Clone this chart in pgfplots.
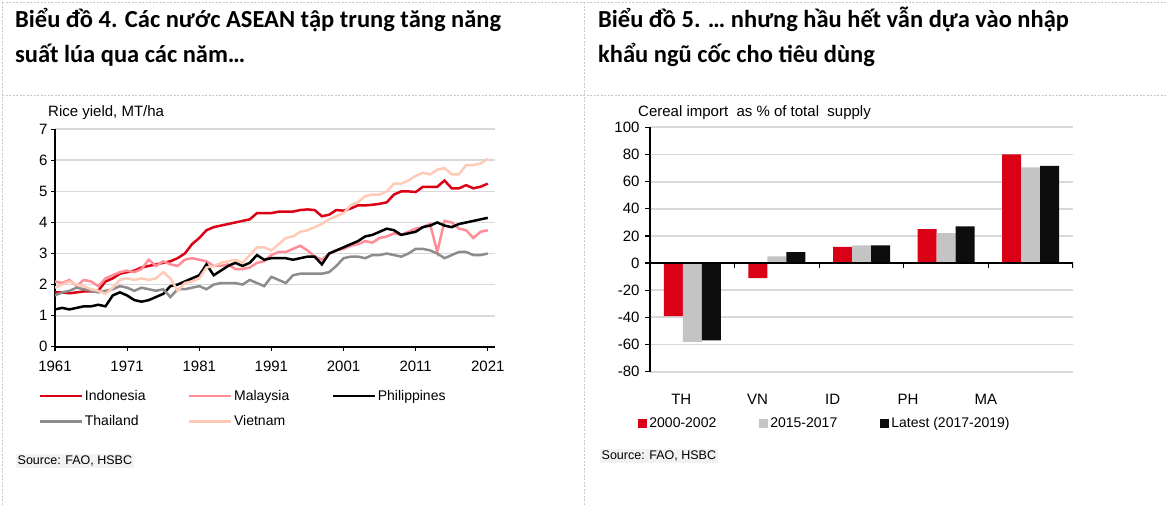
\documentclass[border=0pt]{standalone}
\usepackage{pgfplots}
\pgfplotsset{compat=1.18}
\usepackage{pgfplotstable}
\usepackage{fontspec}
\setmainfont{Liberation Sans}
\newfontfamily\titlefont{Carlito}

\definecolor{idred}{RGB}{220,0,20}
\definecolor{mypink}{RGB}{255,140,150}
\definecolor{vnpeach}{RGB}{255,202,182}
\definecolor{thgray}{RGB}{140,140,140}
\definecolor{gridgray}{RGB}{217,217,217}
\definecolor{bargray}{RGB}{196,196,196}
\definecolor{barblack}{RGB}{13,13,13}
\definecolor{barred}{RGB}{218,0,22}
\definecolor{srcbg}{RGB}{242,242,242}
\definecolor{dashgray}{RGB}{200,200,200}

% rice yield, MT/ha
\pgfplotstableread{
year ID MY PH TH VN
1961 1.75 2.10 1.20 1.65 1.90
1962 1.75 2.05 1.25 1.75 2.00
1963 1.72 2.15 1.20 1.80 2.10
1964 1.75 1.95 1.25 1.90 2.00
1965 1.78 2.15 1.30 1.85 1.95
1966 1.78 2.10 1.30 1.80 1.85
1967 1.80 1.95 1.35 1.75 1.80
1968 2.10 2.20 1.30 1.80 1.70
1969 2.20 2.30 1.65 1.85 1.90
1970 2.35 2.40 1.75 1.95 2.15
1971 2.40 2.45 1.65 1.90 2.20
1972 2.45 2.40 1.50 1.80 2.15
1973 2.55 2.50 1.45 1.90 2.20
1974 2.60 2.80 1.50 1.85 2.15
1975 2.65 2.60 1.60 1.80 2.20
1976 2.70 2.75 1.70 1.85 2.40
1977 2.75 2.65 1.95 1.60 2.20
1978 2.85 2.60 2.00 1.85 1.80
1979 3.00 2.80 2.10 1.85 2.05
1980 3.30 2.85 2.20 1.90 2.10
1981 3.50 2.80 2.30 1.95 2.20
1982 3.75 2.75 2.65 1.85 2.55
1983 3.85 2.60 2.30 2.00 2.60
1984 3.90 2.60 2.45 2.05 2.70
1985 3.95 2.65 2.60 2.05 2.75
1986 4.00 2.50 2.70 2.05 2.80
1987 4.05 2.50 2.60 2.00 2.70
1988 4.10 2.55 2.70 2.15 2.95
1989 4.30 2.70 2.95 2.05 3.20
1990 4.30 2.75 2.80 1.95 3.20
1991 4.30 2.95 2.85 2.25 3.10
1992 4.35 3.05 2.85 2.15 3.30
1993 4.35 3.05 2.85 2.05 3.50
1994 4.35 3.15 2.80 2.30 3.55
1995 4.40 3.25 2.85 2.35 3.70
1996 4.42 3.10 2.90 2.35 3.75
1997 4.40 2.90 2.90 2.35 3.85
1998 4.20 2.80 2.65 2.35 3.95
1999 4.25 3.00 3.00 2.40 4.10
2000 4.40 3.10 3.10 2.60 4.20
2001 4.38 3.15 3.20 2.85 4.30
2002 4.45 3.25 3.30 2.90 4.55
2003 4.55 3.30 3.40 2.90 4.65
2004 4.55 3.40 3.55 2.85 4.85
2005 4.57 3.35 3.60 2.95 4.90
2006 4.60 3.50 3.70 2.95 4.90
2007 4.65 3.55 3.80 3.00 5.00
2008 4.90 3.65 3.75 2.95 5.25
2009 5.00 3.60 3.60 2.90 5.25
2010 5.00 3.70 3.65 3.00 5.35
2011 4.98 3.80 3.70 3.15 5.50
2012 5.15 3.85 3.85 3.15 5.60
2013 5.15 3.95 3.90 3.10 5.55
2014 5.15 3.05 4.00 3.00 5.70
2015 5.35 4.05 3.90 2.85 5.75
2016 5.10 4.00 3.85 2.95 5.55
2017 5.10 3.80 3.95 3.05 5.55
2018 5.20 3.75 4.00 3.05 5.85
2019 5.10 3.50 4.05 2.95 5.85
2020 5.15 3.70 4.10 2.95 5.90
2021 5.25 3.75 4.15 3.00 6.05
}\riceyield

% cereal import as % of total supply
\pgfplotstableread{
x  early  mid  latest
0  -39   -58  -57
1  -11    5    8
2   12   13   13
3   25   22   27
4   80   70.5 71.5
}\cereal

\begin{document}
\begin{tikzpicture}
\useasboundingbox (0,0) rectangle (1166pt,505pt);

% panel borders
\begin{scope}[dashgray, line width=0.8pt, dash pattern=on 2pt off 1.5pt]
\draw (2pt,503pt) -- (1166pt,503pt);
\draw (2pt,410pt) -- (1166pt,410pt);
\draw (2pt,0pt) -- (2pt,503pt);
\draw (584pt,0pt) -- (584pt,503pt);
\end{scope}

% titles
\begin{scope}[font=\titlefont\bfseries\fontsize{24.5}{28}\selectfont]
\node[anchor=base west, inner sep=0pt] at (15pt,477pt) {Biểu đồ 4. Các nước ASEAN tập trung tăng năng};
\node[anchor=base west, inner sep=0pt] at (15pt,442pt) {suất lúa qua các năm…};
\node[anchor=base west, inner sep=0pt] at (598pt,477pt) {Biểu đồ 5. … nhưng hầu hết vẫn dựa vào nhập};
\node[anchor=base west, inner sep=0pt] at (598pt,442pt) {khẩu ngũ cốc cho tiêu dùng};
\end{scope}

\node[anchor=base west, inner sep=0pt, font=\fontsize{15}{17}\selectfont] at (48pt,388pt) {Rice yield, MT/ha};
\node[anchor=base west, inner sep=0pt, font=\fontsize{15}{17}\selectfont] at (638pt,388pt) {Cereal import\ \ as \% of total\ \ supply};

\node[anchor=west, fill=srcbg, inner sep=1.5pt, font=\fontsize{12.5}{14}\selectfont] at (16pt,44pt) {Source: FAO, HSBC};
\node[anchor=west, fill=srcbg, inner sep=1.5pt, font=\fontsize{12.5}{14}\selectfont] at (600pt,49pt) {Source: FAO, HSBC};

% left: rice yield
\begin{axis}[
  at={(55pt,158.3pt)}, anchor=south west,
  scale only axis, width=440pt, height=217.4pt,
  xmin=1961, xmax=2022, ymin=0, ymax=7,
  axis x line*=bottom, axis y line*=left,
  axis line style={black, line width=1.8pt, -},
  xtick={1961,1971,1981,1991,2001,2011,2021},
  xticklabels={1961,1971,1981,1991,2001,2011,2021},
  xticklabel style={yshift=-7pt},
  ytick={0,1,...,7},
  yticklabels={0,1,2,3,4,5,6,7},
  tick align=outside, major tick length=4pt,
  tick style={black, line width=1.2pt},
  ymajorgrids, grid style={gridgray, line width=1.8pt},
  ticklabel style={font=\fontsize{15}{17}\selectfont},
  legend columns=3,
  legend cell align=left,
  legend image code/.code={\draw[#1] (0pt,0pt) -- (42pt,0pt);},
  legend style={at={(axis description cs:-0.045,-0.18)}, anchor=north west,
    draw=none, fill=none, font=\fontsize{14}{16}\selectfont, row sep=10pt,
    /tikz/every even column/.append style={column sep=40pt}},
  every axis plot/.append style={line width=2.5pt},
]
\addplot[idred] table[x=year, y=ID] {\riceyield};
\addlegendentry{Indonesia}
\addplot[mypink] table[x=year, y=MY] {\riceyield};
\addlegendentry{Malaysia}
\addplot[black] table[x=year, y=PH] {\riceyield};
\addlegendentry{Philippines}
\addplot[thgray] table[x=year, y=TH] {\riceyield};
\addlegendentry{Thailand}
\addplot[vnpeach] table[x=year, y=VN] {\riceyield};
\addlegendentry{Vietnam}
\end{axis}

% right: cereal imports
\begin{axis}[
  at={(650pt,133.3pt)}, anchor=south west,
  scale only axis, width=423pt, height=244.4pt,
  xmin=-0.5, xmax=4.5, ymin=-80, ymax=100,
  ybar=0pt, bar width=19pt,
  axis x line*=bottom, axis y line*=left,
  x axis line style={draw=none},
  y axis line style={black, line width=1.8pt, -},
  xtick={-0.13,0.77,1.66,2.55,3.47},
  xticklabels={TH,VN,ID,PH,MA},
  xtick style={draw=none},
  xticklabel style={yshift=-14pt},
  ytick={-80,-60,...,100},
  yticklabels={-80,-60,-40,-20,0,20,40,60,80,100},
  yticklabel style={xshift=-2pt},
  tick align=outside, major tick length=5pt,
  ytick style={black, line width=1.2pt},
  ymajorgrids, grid style={gridgray, line width=1.8pt},
  ticklabel style={font=\fontsize{15}{17}\selectfont},
  legend columns=3,
  legend cell align=left,
  legend style={at={(axis description cs:-0.035,-0.21)}, anchor=west,
    draw=none, fill=none, font=\fontsize{14}{16}\selectfont,
    /tikz/every even column/.append style={column sep=41pt}},
  sq/.style={draw=none, legend image code/.code={\fill[##1] (0pt,-4.5pt) rectangle (9pt,4.5pt);}},
]
\addplot[sq, fill=barred] table[x=x, y=early] {\cereal};
\addlegendentry{2000-2002}
\addplot[sq, fill=bargray] table[x=x, y=mid] {\cereal};
\addlegendentry{2015-2017}
\addplot[sq, fill=barblack] table[x=x, y=latest] {\cereal};
\addlegendentry{Latest (2017-2019)}
\draw[black, line width=1.8pt] (axis cs:-0.5,0) -- (axis cs:4.5,0);
\draw[black, line width=1.2pt] (axis cs:0.5,0) -- ++(0pt,-5pt);
\draw[black, line width=1.2pt] (axis cs:1.5,0) -- ++(0pt,-5pt);
\draw[black, line width=1.2pt] (axis cs:2.5,0) -- ++(0pt,-5pt);
\draw[black, line width=1.2pt] (axis cs:3.5,0) -- ++(0pt,-5pt);
\draw[black, line width=1.2pt] (axis cs:4.5,0) -- ++(0pt,-5pt);
\end{axis}
\end{tikzpicture}
\end{document}
